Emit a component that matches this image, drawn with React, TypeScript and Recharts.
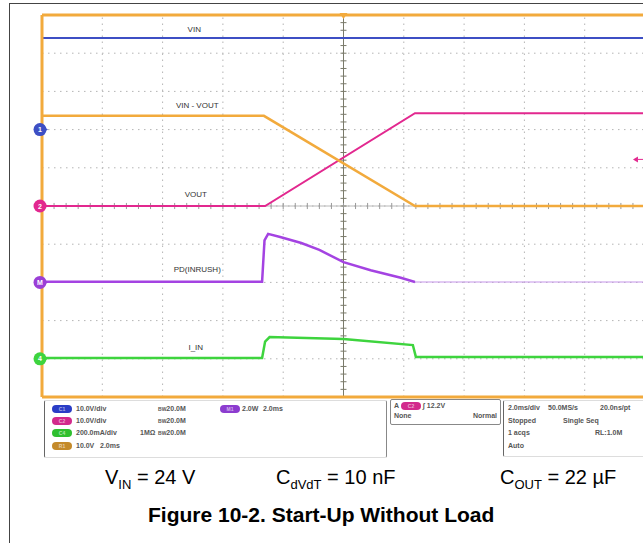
import React from 'react';
import { ComposedChart, Line, XAxis, YAxis, ReferenceLine, ReferenceDot } from 'recharts';

// time in ms (2 ms/div), vertical in scope divisions (0 = bottom, 10 = top)
const vinT = [-10, 10];
const vinV = [9.4, 9.4];
const diffT = [-10, -2.64, 2.37, 10];
const diffV = [7.36, 7.36, 5.0, 5.0];
const voutT = [-10, -2.6, 2.37, 10];
const voutV = [5.0, 5.0, 7.43, 7.43];
const pdT = [-10, -2.7, -2.62, -2.5, -2.1, -1.4, -0.8, 0.0, 0.9, 1.9, 2.37];
const pdV = [3.02, 3.02, 4.1, 4.27, 4.19, 4.03, 3.85, 3.53, 3.32, 3.12, 3.01];
const pdTailT = [2.37, 10];
const pdTailV = [3.01, 3.01];
const iinT = [-10, -2.7, -2.6, -2.45, 0.0, 2.3, 2.4, 10];
const iinV = [1.02, 1.02, 1.45, 1.57, 1.52, 1.36, 1.05, 1.05];

const majorX = [-10, -8, -6, -4, -2, 0, 2, 4, 6, 8, 10];
const majorY = [0, 1, 2, 3, 4, 5, 6, 7, 8, 9, 10];

const traceLabels = ['VIN', 'VIN - VOUT', 'VOUT', 'PD(INRUSH)', 'I_IN'];
const labelT = [-4.95, -4.85, -4.9, -4.85, -4.9];
const labelY = [9.63, 7.64, 5.31, 3.35, 1.31];

const markerText = ['1', '2', 'M', '4'];
const markerY = [7.0, 5.0, 3.0, 1.0];

const ORANGE = '#f2aa3c';
const BLUE = '#3d4fc4';
const MAGENTA = '#e2288f';
const PURPLE = '#a443e2';
const PURPLE_LIGHT = '#c596ea';
const GREEN = '#3ed43e';
const markerColors = [BLUE, MAGENTA, '#9b3fd6', GREEN];

const zip = (t: number[], v: number[]) => t.map((x, i) => ({ t: x, v: v[i] }));
const steps = (a: number, b: number, d: number) => {
  const out: number[] = [];
  for (let x = a; x <= b + 1e-9; x += d) out.push(Math.round(x * 100) / 100);
  return out;
};
const minorX = steps(-10, 10, 0.4);
const minorY = steps(0, 10, 0.2);

const panelText: React.CSSProperties = {
  position: 'absolute',
  fontSize: 7,
  fontWeight: 'bold',
  color: '#555',
  lineHeight: '8px',
  whiteSpace: 'nowrap',
};

function T({ x, y, children, right }: { x: number; y: number; children: React.ReactNode; right?: boolean }) {
  return (
    <div style={{ ...panelText, top: y - 4, ...(right ? { right: 643 - x } : { left: x }) }}>{children}</div>
  );
}

function Badge({ x, y, color, label }: { x: number; y: number; color: string; label: string }) {
  return (
    <div
      style={{
        position: 'absolute', left: x, top: y - 4, width: 20, height: 8, borderRadius: 4,
        background: color, color: 'rgba(255,255,255,0.6)', fontSize: 5, lineHeight: '8px',
        textAlign: 'center', fontWeight: 'bold',
      }}
    >
      {label}
    </div>
  );
}

const BW = () => (
  <span>
    <span style={{ fontSize: 5, verticalAlign: 'top' }}>B</span>
    <span style={{ fontSize: 5 }}>W</span>20.0M
  </span>
);

export default function App() {
  return (
    <div style={{ position: 'absolute', left: 0, top: 0, width: 643, height: 543, overflow: 'hidden', background: '#fff', fontFamily: '"Liberation Sans", Arial, sans-serif' }}>
      <div style={{ position: 'absolute', left: 9, top: 3, width: 700, height: 600, borderLeft: '1px solid #444', borderTop: '1px solid #444' }} />

      <div style={{ position: 'absolute', left: 0, top: 0 }}>
        <ComposedChart width={660} height={400} margin={{ top: 15, right: 15, bottom: 3, left: 42 }}>
          <XAxis type="number" dataKey="t" domain={[-10, 10]} ticks={majorX} allowDataOverflow mirror tick={false} tickLine={false} axisLine={{ stroke: ORANGE, strokeWidth: 3 }} />
          <XAxis xAxisId="bm" type="number" domain={[-10, 10]} ticks={minorX} mirror tick={false} tickSize={4} tickLine={{ stroke: '#999' }} axisLine={false} />
          <XAxis xAxisId="top" orientation="top" type="number" domain={[-10, 10]} ticks={minorX} mirror tick={false} tickSize={4} tickLine={{ stroke: '#999' }} axisLine={{ stroke: ORANGE, strokeWidth: 3 }} />
          <YAxis type="number" domain={[0, 10]} ticks={majorY} mirror tick={false} tickSize={4} tickLine={{ stroke: '#999' }} axisLine={{ stroke: ORANGE, strokeWidth: 3 }} />

          {majorX.slice(1, -1).map((x) => (
            <ReferenceLine key={'gx' + x} x={x} stroke="#b4b4b4" strokeDasharray="1.5 4.5" />
          ))}
          {majorY.slice(1, -1).map((y) => (
            <ReferenceLine key={'gy' + y} y={y} stroke="#b4b4b4" strokeDasharray="1.5 4.5" />
          ))}

          <ReferenceLine x={0} stroke="#7a7a6a" strokeWidth={1} />
          <ReferenceLine y={5} stroke="#b8b8b8" strokeWidth={1} />
          {minorY.map((y) => (
            <ReferenceLine key={'cy' + y} segment={[{ x: -0.1, y }, { x: 0.1, y }]} stroke="#7a7a6a" />
          ))}
          {minorX.map((x) => (
            <ReferenceLine key={'cx' + x} segment={[{ x, y: 4.92 }, { x, y: 5.08 }]} stroke="#999" />
          ))}

          {traceLabels.map((s, i) => (
            <ReferenceDot
              key={s}
              x={labelT[i]}
              y={labelY[i]}
              r={0}
              shape={(p: any) => (
                <text x={p.cx} y={p.cy + 3} fontSize={8} fill="#333" textAnchor="middle" fontFamily='"Liberation Sans", Arial, sans-serif'>
                  {s}
                </text>
              )}
            />
          ))}

          <Line data={zip(pdTailT, pdTailV)} dataKey="v" type="linear" stroke={PURPLE_LIGHT} strokeWidth={1.2} dot={false} isAnimationActive={false} />
          <Line data={zip(pdT, pdV)} dataKey="v" type="linear" stroke={PURPLE} strokeWidth={2.5} dot={false} isAnimationActive={false} />
          <Line data={zip(iinT, iinV)} dataKey="v" type="linear" stroke={GREEN} strokeWidth={2.5} dot={false} isAnimationActive={false} />
          <Line data={zip(vinT, vinV)} dataKey="v" type="linear" stroke={BLUE} strokeWidth={2} dot={false} isAnimationActive={false} />
          <Line data={zip(voutT, voutV)} dataKey="v" type="linear" stroke={MAGENTA} strokeWidth={2} dot={false} isAnimationActive={false} />
          <Line data={zip(diffT, diffV)} dataKey="v" type="linear" stroke={ORANGE} strokeWidth={2.5} dot={false} isAnimationActive={false} />

          {markerText.map((m, i) => (
            <ReferenceDot
              key={'m' + i}
              x={-10}
              y={markerY[i]}
              r={6}
              ifOverflow="visible"
              shape={(p: any) => (
                <g>
                  <polygon points={`${p.cx + 1},${p.cy - 3} ${p.cx + 6},${p.cy} ${p.cx + 1},${p.cy + 3}`} fill={markerColors[i]} />
                  <circle cx={p.cx - 2} cy={p.cy} r={6.5} fill={markerColors[i]} />
                  <text x={p.cx - 2} y={p.cy + 2.5} fontSize={7} fill="#fff" textAnchor="middle" fontWeight="bold">{m}</text>
                </g>
              )}
            />
          ))}
          <ReferenceDot
            x={0}
            y={10}
            r={4}
            ifOverflow="visible"
            shape={(p: any) => <polygon points={`${p.cx - 4},${p.cy - 2} ${p.cx + 4},${p.cy - 2} ${p.cx},${p.cy + 4}`} fill={ORANGE} />}
          />
          <ReferenceDot
            x={9.7}
            y={6.22}
            r={3}
            ifOverflow="visible"
            shape={(p: any) => (
              <g>
                <polygon points={`${p.cx - 3},${p.cy} ${p.cx + 2},${p.cy - 3} ${p.cx + 2},${p.cy + 3}`} fill={MAGENTA} />
                <line x1={p.cx + 2} y1={p.cy} x2={p.cx + 10} y2={p.cy} stroke={MAGENTA} strokeWidth={1} />
              </g>
            )}
          />
        </ComposedChart>
      </div>

      {/* scope info panel */}
      <div style={{ position: 'absolute', left: 44, top: 400, width: 341, height: 56, borderLeft: '1px solid #666', borderTop: '1px solid #ddd', borderBottom: '1px solid #ddd', borderRight: '1px solid #888', borderRadius: 2 }} />
      <div style={{ position: 'absolute', left: 390, top: 399, width: 109, height: 24, border: '1px solid #888', borderRadius: 2 }} />
      <div style={{ position: 'absolute', left: 503, top: 400, width: 160, height: 55, borderLeft: '1px solid #666', borderTop: '1px solid #ddd', borderBottom: '1px solid #ddd', borderRadius: 2 }} />

      <Badge x={52} y={409} color="#2a3dc6" label="C1" />
      <T x={76} y={409}>10.0V/div</T>
      <T x={158} y={409}><BW /></T>
      <Badge x={220} y={409} color="#8c3ccf" label="M1" />
      <T x={242} y={409}>2.0W</T>
      <T x={263} y={409}>2.0ms</T>

      <Badge x={52} y={421} color="#d22a8c" label="C2" />
      <T x={76} y={421}>10.0V/div</T>
      <T x={158} y={421}><BW /></T>

      <Badge x={52} y={433} color="#2fbf2f" label="C4" />
      <T x={76} y={433}>200.0mA/div</T>
      <T x={140} y={433}>1MΩ</T>
      <T x={158} y={433}><BW /></T>

      <Badge x={52} y={446} color="#c48a2a" label="R1" />
      <T x={76} y={446}>10.0V</T>
      <T x={100} y={446}>2.0ms</T>

      <T x={394} y={406}>A</T>
      <Badge x={401} y={406} color="#d22a8c" label="C2" />
      <T x={423} y={406}>∫ 12.2V</T>
      <T x={394} y={416}>None</T>
      <T x={497} y={416} right>Normal</T>

      <T x={508} y={408}>2.0ms/div</T>
      <T x={548} y={408}>50.0MS/s</T>
      <T x={600} y={408}>20.0ns/pt</T>
      <T x={508} y={421}>Stopped</T>
      <T x={563} y={421}>Single Seq</T>
      <T x={508} y={433}>1 acqs</T>
      <T x={595} y={433}>RL:1.0M</T>
      <T x={508} y={446}>Auto</T>

      {/* caption */}
      <div style={{ position: 'absolute', top: 466, left: 105, fontSize: 20, color: '#000', whiteSpace: 'nowrap' }}>
        V<sub style={{ fontSize: 13 }}>IN</sub> = 24 V
      </div>
      <div style={{ position: 'absolute', top: 466, left: 276, fontSize: 20, color: '#000', whiteSpace: 'nowrap' }}>
        C<sub style={{ fontSize: 13 }}>dVdT</sub> = 10 nF
      </div>
      <div style={{ position: 'absolute', top: 466, left: 500, fontSize: 20, color: '#000', whiteSpace: 'nowrap' }}>
        C<sub style={{ fontSize: 13 }}>OUT</sub> = 22 µF
      </div>
      <div style={{ position: 'absolute', top: 503, left: 148, fontSize: 21, fontWeight: 'bold', color: '#000', whiteSpace: 'nowrap' }}>
        Figure 10-2. Start-Up Without Load
      </div>
    </div>
  );
}
